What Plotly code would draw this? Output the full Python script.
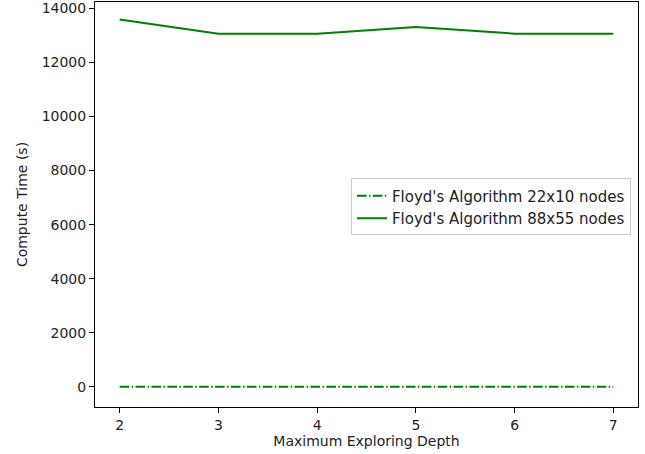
import plotly.graph_objects as go

depths = [2, 3, 4, 5, 6, 7]
small_times = [8, 8, 8, 8, 8, 8]
large_times = [13580, 13060, 13060, 13310, 13060, 13060]
y_ticks = [0, 2000, 4000, 6000, 8000, 10000, 12000, 14000]
x_ticks = [2, 3, 4, 5, 6, 7]

TXT = "#222222"

fig = go.Figure()
fig.add_trace(go.Scatter(
    x=depths, y=small_times, mode="lines",
    name="Floyd's Algorithm 22x10 nodes",
    line=dict(color="#008000", width=2, dash="9.6px,2.4px,1.5px,2.4px"),
))
fig.add_trace(go.Scatter(
    x=depths, y=large_times, mode="lines",
    name="Floyd's Algorithm 88x55 nodes",
    line=dict(color="#008000", width=2),
))

axis_common = dict(
    showline=True, linecolor="black", linewidth=1, mirror=True,
    ticks="outside", ticklen=5, tickwidth=1, tickcolor="black",
    showgrid=False, zeroline=False, automargin=False,
    tickfont=dict(family="DejaVu Sans", size=14, color=TXT),
)

fig.update_layout(
    width=645, height=454,
    margin=dict(l=95, r=7, t=2, b=47),
    plot_bgcolor="white", paper_bgcolor="white",
    font=dict(family="DejaVu Sans", size=14, color=TXT),
    xaxis=dict(range=[1.75, 7.25], tickvals=x_ticks, ticktext=[str(v) for v in x_ticks],
               title=dict(text="Maximum Exploring Depth", standoff=4,
                          font=dict(family="DejaVu Sans", size=14, color=TXT)),
               **axis_common),
    yaxis=dict(range=[-740, 14230], tickvals=y_ticks, ticktext=[str(v) for v in y_ticks],
               title=dict(text="Compute Time (s)", standoff=10,
                          font=dict(family="DejaVu Sans", size=14, color=TXT)),
               **axis_common),
    legend=dict(x=0.987, y=0.494, xanchor="right", yanchor="middle",
                bgcolor="rgba(255,255,255,0.8)", bordercolor="#cccccc", borderwidth=1,
                itemwidth=30, tracegroupgap=0,
                font=dict(family="DejaVu Sans", size=15, color=TXT)),
    showlegend=True,
)

fig.write_html("out.html", config={"displayModeBar": False},
               post_script="document.body.style.margin='0';")
